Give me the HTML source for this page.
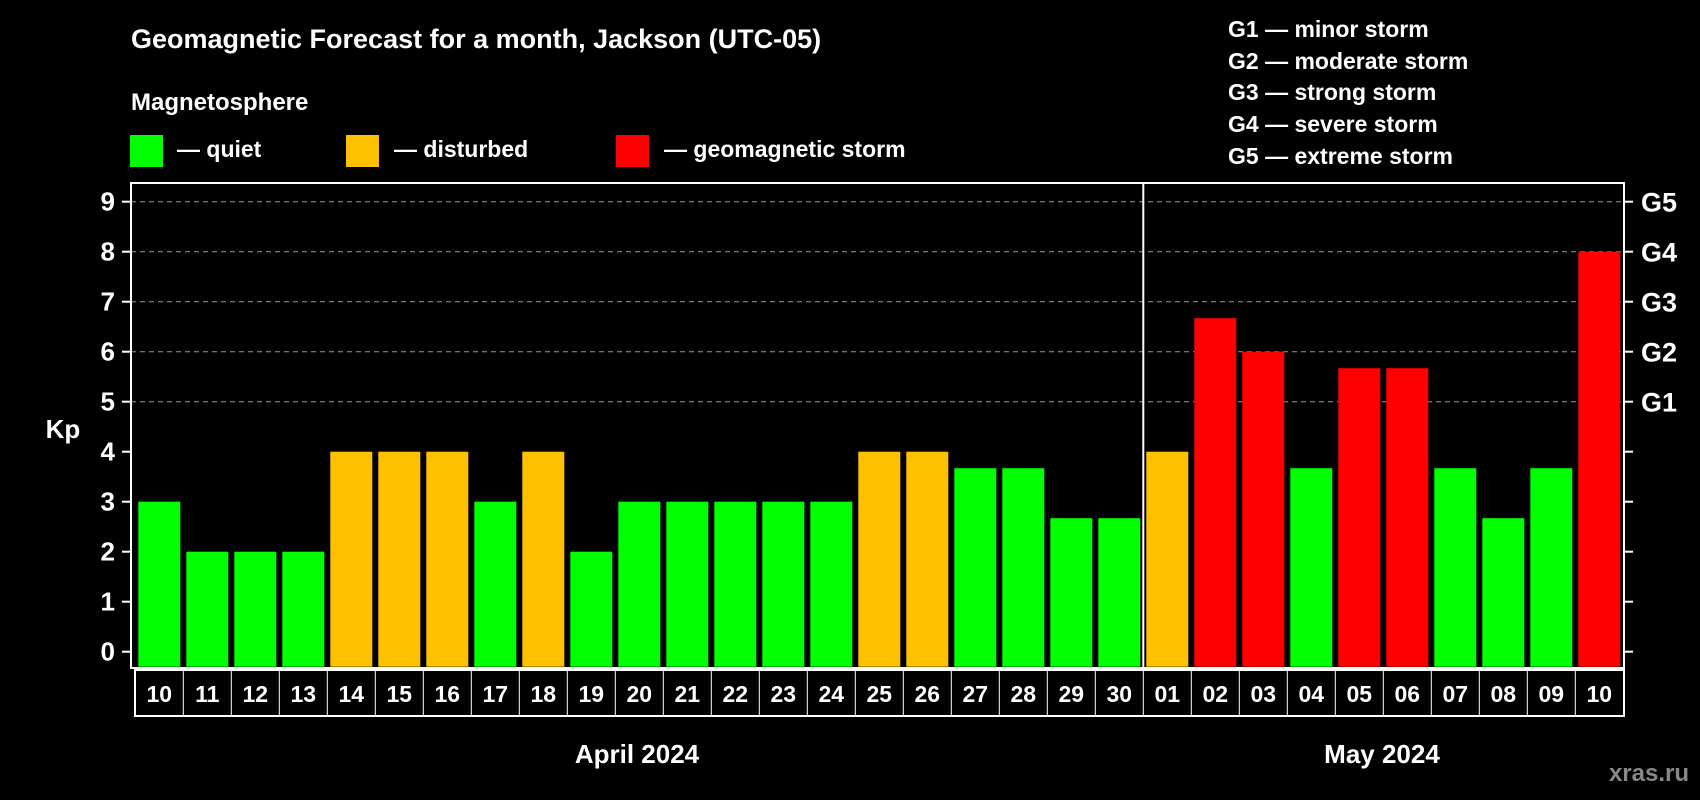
<!DOCTYPE html>
<html><head><meta charset="utf-8">
<style>
html,body{margin:0;padding:0;background:#000;}
svg{display:block;font-family:"Liberation Sans",Arial,sans-serif;font-weight:bold;}
</style></head>
<body>
<svg id="chart" width="1700" height="800" viewBox="0 0 1700 800" xmlns="http://www.w3.org/2000/svg">
<rect width="1700" height="800" fill="#000"/>
<text x="131" y="48" fill="#fff" font-size="27">Geomagnetic Forecast for a month, Jackson (UTC-05)</text>
<text x="131" y="110" fill="#fff" font-size="24">Magnetosphere</text>
<g>
<rect x="130" y="135" width="33" height="32" fill="#00ff00"/>
<text x="177" y="157" fill="#fff" font-size="23">— quiet</text></g>
<g>
<rect x="346" y="135" width="33" height="32" fill="#ffc000"/>
<text x="394" y="157" fill="#fff" font-size="23">— disturbed</text></g>
<g>
<rect x="616" y="135" width="33" height="32" fill="#ff0000"/>
<text x="664" y="157" fill="#fff" font-size="23">— geomagnetic storm</text></g>
<g font-size="23" fill="#fff">
<text x="1228" y="37">G1 — minor storm</text>
<text x="1228" y="69">G2 — moderate storm</text>
<text x="1228" y="100">G3 — strong storm</text>
<text x="1228" y="132">G4 — severe storm</text>
<text x="1228" y="164">G5 — extreme storm</text>
</g>
<text x="63" y="438" fill="#fff" font-size="26" text-anchor="middle">Kp</text>
<g id="grid"></g>
<g id="bars"></g>
<g id="axes"></g>
<text x="637" y="763" fill="#fff" font-size="26" text-anchor="middle">April 2024</text>
<text x="1382" y="763" fill="#fff" font-size="26" text-anchor="middle">May 2024</text>
<text x="1689" y="781" fill="#888" font-size="24" text-anchor="end">xras.ru</text>
</svg>
<script>
const days = ["10","11","12","13","14","15","16","17","18","19","20","21","22","23","24","25","26","27","28","29","30","01","02","03","04","05","06","07","08","09","10"];
const kpValues = [3,2,2,2,4,4,4,3,4,2,3,3,3,3,3,4,4,3.67,3.67,2.67,2.67,4,6.67,6,3.67,5.67,5.67,3.67,2.67,3.67,8];
const yTicks = [0,1,2,3,4,5,6,7,8,9];
const gLabels = ["G1","G2","G3","G4","G5"];
const gLevels = [5,6,7,8,9];
const monthBreakIndex = 21;

const NS = "http://www.w3.org/2000/svg";
const plotL = 131, plotR = 1624, plotT = 183, plotB = 668;
const y0 = 651.7, yStep = 50;
const barX0 = 138.3, pitch = 48, barW = 42;
function yScale(v){ return y0 - v*yStep; }
function xScale(i){ return barX0 + i*pitch; }
function mk(tag, attrs, parent){
  const e = document.createElementNS(NS, tag);
  for (const k in attrs) e.setAttribute(k, attrs[k]);
  parent.appendChild(e); return e;
}
function colorFor(v){ return v >= 5 ? "#ff0000" : (v >= 4 ? "#ffc000" : "#00ff00"); }

const grid = document.getElementById("grid");
const bars = document.getElementById("bars");
const axes = document.getElementById("axes");

yTicks.forEach(t => {
  if (t >= 5) {
    const gl = mk("line", {x1: plotL, x2: plotR, y1: yScale(t), y2: yScale(t), stroke: "#999", "stroke-width": 1, "stroke-dasharray": "5,4"}, grid);
    
    
  }
  const tl = mk("line", {x1: plotL - 9, x2: plotL, y1: yScale(t), y2: yScale(t), stroke: "#fff", "stroke-width": 2}, axes);
  
  
  const tr = mk("line", {x1: plotR, x2: plotR + 9, y1: yScale(t), y2: yScale(t), stroke: "#fff", "stroke-width": 2}, axes);
  
  
  const lb = mk("text", {x: 115, y: yScale(t) + 9, fill: "#fff", "font-size": 26, "text-anchor": "end"}, axes);
  lb.textContent = t;
  
  
});
gLabels.forEach((g, i) => {
  const lb = mk("text", {x: 1641, y: yScale(gLevels[i]) + 10, fill: "#fff", "font-size": 27}, axes);
  lb.textContent = g;
  
  
});

kpValues.forEach((v, i) => {
  const r = mk("rect", {x: xScale(i), y: yScale(v), width: barW, height: y0 + 15 - yScale(v), fill: colorFor(v)}, bars);
  
  
});

const frame = mk("rect", {x: plotL, y: plotT, width: plotR - plotL, height: plotB - plotT, fill: "none", stroke: "#fff", "stroke-width": 2}, axes);


const sepX = xScale(monthBreakIndex) - 3;
const sep = mk("line", {x1: sepX, x2: sepX, y1: plotT, y2: plotB, stroke: "#fff", "stroke-width": 2}, axes);



const boxT = 670, boxB = 716, boxL = 135;
const dbox = mk("rect", {x: boxL, y: boxT, width: plotR - boxL, height: boxB - boxT, fill: "#000", stroke: "#fff", "stroke-width": 2}, axes);


days.forEach((d, i) => {
  if (i > 0) {
    const cx = xScale(i) - 3;
    const l = mk("line", {x1: cx, x2: cx, y1: boxT, y2: boxB, stroke: "#fff", "stroke-width": 1}, axes);
    
    
  }
  const t = mk("text", {x: xScale(i) + barW/2, y: boxT + 32, fill: "#fff", "font-size": 23, "text-anchor": "middle"}, axes);
  t.textContent = d;
  
  
});
</script>
</body></html>
